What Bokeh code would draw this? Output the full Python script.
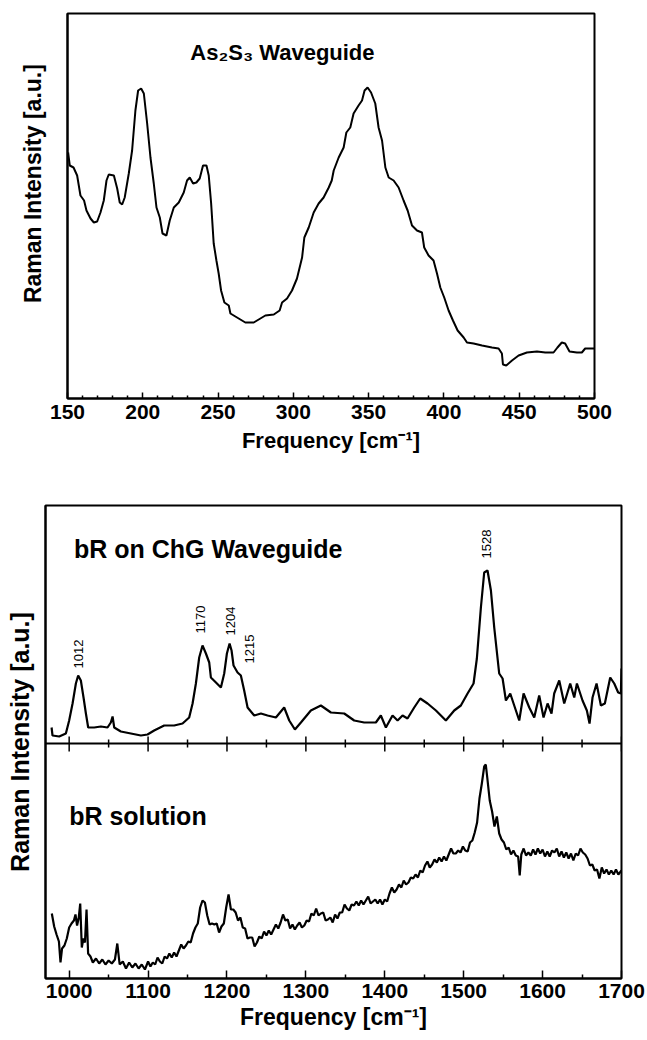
import math
from bokeh.plotting import figure
from bokeh.models import Range1d, FixedTicker, Span
from bokeh.core.properties import value
from bokeh.embed import file_html
from bokeh.resources import INLINE

FONT = "Liberation Sans"

# ---------------- Top panel: As2S3 waveguide Raman spectrum ----------------
as2s3_freq = [150.4, 151.5, 154.0, 156.4, 158.6, 161.0, 162.6, 165.3, 167.5, 169.7,
              171.9, 174.1, 175.9, 177.4, 180.8, 183.0, 184.7, 186.3, 188.0, 190.7,
              192.9, 195.1, 196.9, 198.9, 200.7, 202.9, 205.1, 207.3, 209.1, 211.3,
              213.1, 215.7, 217.9, 220.6, 223.9, 227.2, 229.4, 231.2, 233.4, 235.6,
              237.8, 240.0, 242.3, 243.8, 245.4, 247.1, 248.9, 250.4, 252.0, 254.2,
              257.1, 258.2, 261.5, 264.8, 268.1, 273.7, 277.0, 281.4, 287.0, 290.9,
              292.5, 295.8, 299.1, 302.4, 305.8, 307.3, 310.2, 313.5, 316.8, 320.1,
              323.5, 325.5, 326.8, 330.1, 333.4, 335.2, 337.8, 340.0, 343.3, 345.6,
              347.3, 349.3, 351.6, 354.4, 356.6, 358.9, 361.1, 363.3, 366.6, 369.9,
              373.2, 375.9, 378.8, 382.1, 385.4, 386.9, 389.8, 393.1, 395.4, 397.6,
              400.2, 403.1, 406.0, 409.1, 413.1, 415.3, 419.7, 425.3, 431.9, 436.3,
              438.5, 439.2, 441.4, 445.2, 449.6, 455.1, 461.8, 467.3, 472.8, 475.4,
              478.3, 480.5, 483.4, 488.3, 491.6, 493.8, 499.8]
as2s3_int = [246, 233, 231, 223, 203, 198, 188, 180, 176, 177,
             186, 198, 218, 224, 223, 210, 196, 194, 201, 225,
             248, 288, 308, 310, 305, 275, 241, 215, 191, 181,
             165, 163, 178, 191, 196, 206, 218, 221, 215, 216,
             220, 233, 233, 223, 195, 155, 138, 125, 108, 96,
             93, 85, 82, 79, 76, 76, 79, 83, 84, 88,
             96, 100, 108, 120, 141, 161, 171, 186, 195, 201,
             211, 218, 228, 241, 251, 266, 271, 285, 293, 298,
             308, 311, 306, 295, 271, 258, 231, 221, 218, 211,
             198, 188, 173, 168, 166, 151, 143, 138, 125, 111,
             101, 88, 78, 68, 61, 56, 55, 53, 51, 50,
             45, 34, 33, 38, 43, 46, 47, 46, 46, 51,
             56, 55, 47, 46, 46, 50, 50]
top_major_ticks = [150, 200, 250, 300, 350, 400, 450, 500]
top_minor_ticks = [v for v in range(160, 500, 10) if v % 50 != 0]

# ---------------- Bottom panel: bR on ChG waveguide (upper trace) ----------------
chg_freq = [977.7, 978.9, 987.4, 995.8, 1000.0, 1004.3, 1008.5, 1011.4, 1014.8, 1018.2,
            1021.2, 1024.1, 1031.7, 1040.2, 1048.6, 1052.8, 1055.0, 1057.1, 1065.5, 1078.2,
            1090.9, 1099.3, 1107.7, 1120.4, 1133.1, 1143.7, 1152.1, 1156.4, 1160.6, 1164.8,
            1169.0, 1173.3, 1177.5, 1179.6, 1186.0, 1192.3, 1196.5, 1199.9, 1203.3, 1205.8,
            1208.3, 1213.4, 1217.6, 1221.8, 1226.1, 1234.5, 1243.0, 1251.4, 1262.0, 1272.5,
            1278.9, 1286.1, 1293.7, 1306.3, 1319.0, 1331.7, 1348.6, 1361.2, 1373.9, 1388.7,
            1395.0, 1401.4, 1409.8, 1416.2, 1422.5, 1428.8, 1437.3, 1444.9, 1454.2, 1464.8,
            1477.4, 1488.0, 1496.4, 1504.9, 1512.5, 1516.7, 1521.8, 1526.0, 1530.2, 1534.5,
            1538.7, 1545.0, 1549.3, 1553.5, 1559.0, 1563.2, 1570.4, 1575.9, 1583.1, 1589.4,
            1595.7, 1601.2, 1606.3, 1611.3, 1614.7, 1621.1, 1627.4, 1635.0, 1640.1, 1643.5,
            1650.6, 1656.1, 1659.5, 1663.3, 1668.4, 1673.9, 1678.9, 1685.7, 1690.8, 1695.8,
            1699.2, 1700.0]
chg_int = [16, 8, 7, 10, 23, 40, 60, 68, 63, 46,
           30, 16, 16, 17, 16, 21, 27, 16, 12, 10,
           8, 9, 13, 18, 18, 20, 26, 40, 60, 86,
           98, 90, 81, 66, 61, 56, 70, 90, 100, 93,
           78, 71, 68, 53, 36, 28, 30, 28, 26, 36,
           23, 14, 21, 33, 38, 31, 30, 23, 21, 21,
           28, 16, 28, 23, 28, 25, 36, 45, 40, 33,
           23, 33, 38, 50, 60, 85, 136, 171, 173, 153,
           116, 70, 65, 43, 50, 40, 23, 50, 36, 26,
           48, 26, 40, 30, 50, 63, 40, 60, 46, 60,
           43, 33, 20, 46, 60, 38, 40, 66, 60, 51,
           50, 75]

# ---------------- Bottom panel: bR solution (lower trace) ----------------
sol_freq = [978, 981, 984, 987, 989, 991, 994, 997, 1000, 1003, 1006, 1008, 1010, 1012,
            1014, 1016, 1018, 1020, 1022, 1024, 1027, 1030, 1034, 1038, 1042, 1046, 1050,
            1054, 1058, 1061, 1064, 1068, 1072, 1076, 1080, 1084, 1088, 1092, 1096,
            1100, 1103, 1106, 1109, 1112, 1115, 1118, 1121, 1124, 1127, 1130, 1133, 1136,
            1139, 1142, 1145, 1148, 1151, 1154, 1157, 1160, 1163, 1166, 1169, 1172, 1175,
            1178, 1181, 1184, 1187, 1190, 1193, 1196, 1199, 1202, 1205, 1208, 1211, 1214,
            1217, 1220, 1223, 1226, 1229, 1232, 1235, 1238, 1241, 1244, 1247, 1250, 1253,
            1256, 1259, 1262, 1265, 1268, 1271, 1274, 1277, 1280, 1283, 1286, 1289, 1292,
            1295, 1298, 1301, 1304, 1307, 1310, 1313, 1316, 1319, 1322, 1325, 1328, 1331,
            1334, 1337, 1340, 1343, 1346, 1349, 1352, 1355, 1358, 1361, 1364, 1367, 1370,
            1373, 1376, 1379, 1382, 1385, 1388, 1391, 1394, 1397, 1400, 1403, 1406, 1409,
            1412, 1415, 1418, 1421, 1424, 1427, 1430, 1433, 1436, 1439, 1442, 1445, 1448,
            1451, 1454, 1457, 1460, 1463, 1466, 1469, 1472, 1475, 1478, 1481, 1484, 1487,
            1490, 1493, 1496, 1499, 1502, 1505, 1508, 1511, 1514, 1517, 1520, 1523, 1526,
            1528, 1530, 1533, 1536, 1539, 1542, 1545, 1548, 1551, 1554, 1557, 1560, 1563,
            1566, 1569, 1571, 1573, 1576, 1579, 1582, 1585, 1588, 1591, 1594, 1597, 1600,
            1603, 1606, 1609, 1612, 1615, 1618, 1621, 1624, 1627, 1630, 1633, 1636, 1639,
            1642, 1645, 1648, 1651, 1654, 1657, 1660, 1663, 1666, 1669, 1672, 1675, 1678,
            1681, 1684, 1687, 1690, 1693, 1696, 1699, 1700]
sol_int = [65, 52, 44, 37, 16, 30, 33, 40, 51, 55, 58, 64, 53, 60,
           75, 31, 40, 36, 69, 25, 22, 16, 20, 15, 19, 14, 18,
           15, 19, 35, 14, 17, 10, 16, 11, 15, 10, 14, 9,
           17, 12, 16, 14, 21, 17, 15, 22, 20, 25, 21, 26, 22,
           28, 34, 30, 33, 37, 36, 45, 51, 55, 71, 78, 76, 63,
           54, 55, 54, 55, 46, 52, 55, 71, 84, 69, 69, 66, 58,
           61, 51, 50, 40, 41, 41, 32, 36, 42, 40, 47, 43, 48,
           44, 49, 54, 50, 56, 64, 58, 59, 50, 54, 49, 53, 56,
           51, 53, 58, 57, 65, 63, 70, 63, 65, 66, 58, 59, 61,
           56, 64, 60, 66, 66, 74, 70, 68, 74, 73, 77, 73, 78,
           74, 78, 82, 75, 77, 79, 75, 79, 74, 79, 77, 85, 91,
           86, 89, 94, 91, 98, 94, 96, 101, 100, 104, 101, 108, 106,
           113, 117, 111, 114, 119, 116, 121, 117, 122, 118, 124, 130, 125,
           125, 128, 126, 132, 128, 127, 136, 138, 146, 156, 180, 195, 212,
           214, 200, 178, 167, 152, 162, 145, 139, 136, 129, 131, 124, 128,
           123, 122, 103, 124, 130, 123, 126, 123, 129, 124, 130, 125, 129,
           122, 127, 122, 128, 126, 130, 122, 127, 121, 126, 120, 125, 118,
           125, 123, 130, 126, 124, 120, 113, 114, 108, 109, 100, 111, 105,
           109, 104, 108, 104, 109, 104, 107, 108]

peak_labels = ["1012", "1170", "1204", "1215", "1528"]
peak_label_x = [1012, 1167, 1205, 1228, 1529]
peak_label_y = [75, 110, 108, 80, 185]

bot_major_ticks = [1000, 1100, 1200, 1300, 1400, 1500, 1600, 1700]
bot_minor_ticks = [1050, 1150, 1250, 1350, 1450, 1550, 1650]

DIVIDER = 235  # level of the line separating the two stacked traces


def style(p):
    p.grid.visible = False
    p.outline_line_color = "black"
    p.outline_line_width = 2
    p.outline_line_alpha = 1
    p.background_fill_color = "white"
    p.border_fill_color = "white"
    for ax in (p.xaxis[0], p.yaxis[0]):
        ax.axis_line_width = 2
        ax.axis_line_color = "black"
        ax.major_tick_line_width = 1.5
        ax.minor_tick_line_width = 1.5
        ax.major_tick_out = 0
        ax.minor_tick_out = 0
        ax.major_label_text_font = FONT
        ax.major_label_text_font_style = "bold"
        ax.major_label_text_color = "black"
        ax.axis_label_text_font = FONT
        ax.axis_label_text_font_style = "bold"
        ax.axis_label_text_color = "black"
    p.yaxis[0].ticker = FixedTicker(ticks=[])
    p.yaxis[0].major_label_text_font_size = "0px"
    p.yaxis[0].major_label_standoff = 0


# ---------------- Top figure ----------------
p1 = figure(width=647, height=480, output_backend="svg", toolbar_location=None,
            x_range=Range1d(150, 500), y_range=Range1d(0, 385),
            min_border_left=67, min_border_right=53, min_border_top=13, min_border_bottom=82)
style(p1)
p1.xaxis[0].ticker = FixedTicker(ticks=top_major_ticks, minor_ticks=top_minor_ticks)
p1.xaxis[0].major_tick_in = 6
p1.xaxis[0].minor_tick_in = 3
p1.xaxis[0].major_label_text_font_size = "21px"
p1.xaxis[0].major_label_standoff = 6
p1.xaxis[0].axis_label = "Frequency [cm\u207b\u00b9]"
p1.xaxis[0].axis_label_text_font_size = "22px"
p1.xaxis[0].axis_label_standoff = 6
p1.yaxis[0].axis_label = "\u00a0" * 7 + "Raman Intensity [a.u.]"
p1.yaxis[0].axis_label_text_font_size = "23px"
p1.yaxis[0].axis_label_standoff = 22

p1.line(as2s3_freq, as2s3_int, line_color="black", line_width=2)
p1.text(x=[231.6], y=[346], text=["As\u2082S\u2083 Waveguide"], text_font=value(FONT),
        text_font_style="bold", text_font_size=value("22px"), text_align="left",
        text_baseline="alphabetic", text_color="black")

# ---------------- Bottom figure ----------------
p2 = figure(width=647, height=560, output_backend="svg", toolbar_location=None,
            x_range=Range1d(970, 1700), y_range=Range1d(0, 473),
            min_border_left=45, min_border_right=26, min_border_top=25, min_border_bottom=62)
style(p2)
p2.xaxis[0].ticker = FixedTicker(ticks=bot_major_ticks, minor_ticks=bot_minor_ticks)
p2.xaxis[0].major_tick_in = 8
p2.xaxis[0].minor_tick_in = 4
p2.xaxis[0].major_label_text_font_size = "21px"
p2.xaxis[0].major_label_standoff = 5
p2.xaxis[0].axis_label = "Frequency [cm\u207b\u00b9]"
p2.xaxis[0].axis_label_text_font_size = "23px"
p2.xaxis[0].axis_label_standoff = 3
p2.yaxis[0].axis_label = "Raman Intensity [a.u.]"
p2.yaxis[0].axis_label_text_font_size = "25px"
p2.yaxis[0].axis_label_standoff = 12

# divider between the stacked traces, with ticks crossing it
p2.add_layout(Span(location=DIVIDER, dimension="width", line_color="black", line_width=2))
p2.segment(x0=bot_major_ticks, x1=bot_major_ticks,
           y0=[DIVIDER - 8] * len(bot_major_ticks), y1=[DIVIDER + 7] * len(bot_major_ticks),
           line_color="black", line_width=1.5)
p2.segment(x0=bot_minor_ticks, x1=bot_minor_ticks,
           y0=[DIVIDER - 4] * len(bot_minor_ticks), y1=[DIVIDER + 4] * len(bot_minor_ticks),
           line_color="black", line_width=1.5)

p2.line(chg_freq, [v + DIVIDER for v in chg_int], line_color="black", line_width=2.2)
p2.line(sol_freq, sol_int, line_color="black", line_width=2.2)

p2.text(x=peak_label_x, y=[v + DIVIDER for v in peak_label_y], text=peak_labels,
        angle=math.pi / 2, text_font=value(FONT), text_font_size=value("13px"),
        text_align="left", text_baseline="middle", text_color="black")
p2.text(x=[1006], y=[430], text=["bR on ChG Waveguide"], text_font=value(FONT),
        text_font_style="bold", text_font_size=value("25px"), text_align="left",
        text_baseline="alphabetic", text_color="black")
p2.text(x=[1000], y=[163], text=["bR solution"], text_font=value(FONT),
        text_font_style="bold", text_font_size=value("25px"), text_align="left",
        text_baseline="alphabetic", text_color="black")

# two independent roots, stacked, so that each panel keeps its own frame position
open("out.html", "w").write(file_html([p1, p2], INLINE))
